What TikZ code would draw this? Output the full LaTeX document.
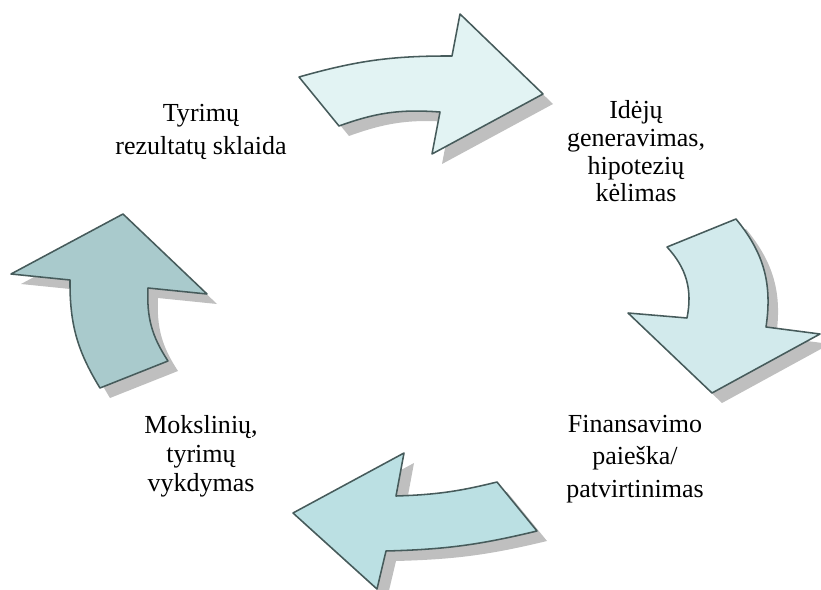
\documentclass[tikz,border=0pt]{standalone}
\usepackage{fontspec}
\setmainfont{Liberation Serif}
\definecolor{edgegray}{HTML}{465B5B}
\definecolor{shadowgray}{HTML}{BFBFBF}
\definecolor{filltop}{HTML}{E2F3F3}
\definecolor{fillright}{HTML}{D2EAEC}
\definecolor{fillbottom}{HTML}{BBE0E3}
\definecolor{fillleft}{HTML}{A9CACC}
\tikzset{
  arrshadow/.style={fill=shadowgray, shift={(10,10)}},
  arrbody/.style={draw=edgegray, line width=1.1pt, line join=round},
  lbl/.style={align=center, inner sep=0pt, anchor=base, font=\fontsize{18.5}{#1}\selectfont}
}
% the four arrow outlines, in pixel coordinates
\def\pathtop{(299,77) to[bend left=8] (452,56) -- (460,14) -- (543,94) -- (432,154) -- (440,112) to[bend right=12] (339,126) -- cycle}
\def\pathright{(667,247) -- (736,219) to[bend left=24] (766,327) -- (820,334) -- (712,393) -- (628,313) -- (687,318) to[bend right=27] (667,247) -- cycle}
\def\pathbottom{(497,482) -- (537,531) to[bend left=6] (386,551) -- (377,589) -- (293,513) -- (404,453) -- (396,496) to[bend right=6] (497,482) -- cycle}
\def\pathleft{(100,388) -- (168,361) to[bend left=18] (148,288) -- (207,294) -- (123,214) -- (11,274) -- (70,280) to[bend right=16] (100,388) -- cycle}
\begin{document}
\begin{tikzpicture}[x=0.025cm, y=-0.025cm]
  \useasboundingbox (0,0) rectangle (821,590);
  % shadows
  \fill[arrshadow] \pathtop;
  \fill[arrshadow] \pathright;
  \fill[arrshadow] \pathbottom;
  \fill[arrshadow] \pathleft;
  % arrows
  \filldraw[arrbody, fill=filltop] \pathtop;
  \filldraw[arrbody, fill=fillright] \pathright;
  \filldraw[arrbody, fill=fillbottom] \pathbottom;
  \filldraw[arrbody, fill=fillleft] \pathleft;
  % labels (base = last line)
  \node[lbl=23.5] (tyr) at (201,155) {Tyrimų\\rezultatų sklaida};
  \node[lbl=19.9] (ide) at (636,202) {Idėjų\\generavimas,\\hipotezių\\kėlimas};
  \node[lbl=22.8] (fin) at (635,497) {Finansavimo\\paieška/\\patvirtinimas};
  \node[lbl=20.6] (mok) at (201,491) {Mokslinių,\\tyrimų\\vykdymas};
\end{tikzpicture}
\end{document}
